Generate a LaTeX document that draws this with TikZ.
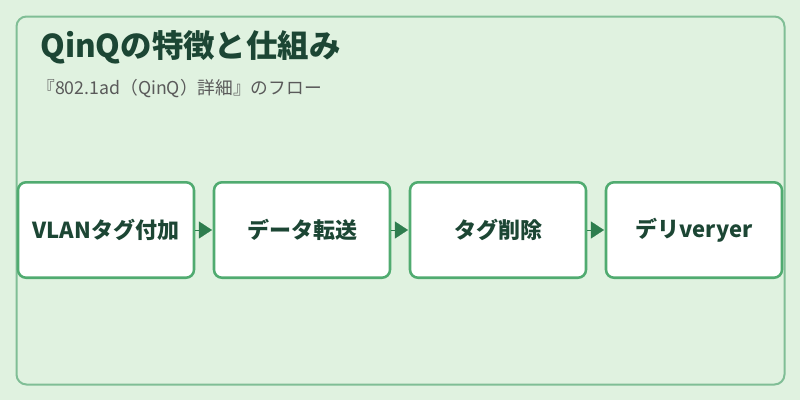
\documentclass[tikz,border=0pt]{standalone}
\usepackage{fontspec}
\setmainfont{Noto Sans CJK JP}
\usetikzlibrary{arrows.meta}

\definecolor{bggreen}{HTML}{E0F2E0}
\definecolor{panelline}{HTML}{80BE96}
\definecolor{boxline}{HTML}{50AB70}
\definecolor{tipgreen}{HTML}{2E7D4E}
\definecolor{titlegreen}{HTML}{1C4634}
\definecolor{subgray}{HTML}{5A5A5A}

\tikzset{
  stepbox/.style={draw=boxline, line width=1.9pt, fill=white, rounded corners=6pt,
    minimum width=132pt, minimum height=71.6pt, inner sep=0pt,
    font=\fontsize{16.5pt}{19pt}\selectfont\bfseries, text=titlegreen},
  flowtip/.style={draw=tipgreen, line width=0.1pt,
    -{Triangle[length=9.75pt,width=12.75pt,fill=tipgreen]}, shorten >=0.6pt}
}

\begin{document}
\begin{tikzpicture}[x=0.75pt,y=0.75pt,yscale=-1,xscale=1]
            \useasboundingbox (0,0) rectangle (800,400); % canvas 800x400
            \fill[bggreen] (0,0) rectangle (800,400); % Background

            % Panel
            \draw[panelline, line width=1.5pt, rounded corners=7.5pt] (16.5,16.5) rectangle (784.5,384.5); % Frame

            % Title
            \node (title) at (40,47) [anchor=west][inner sep=0pt] [font=\fontsize{23.6pt}{27pt}\selectfont\bfseries, text=titlegreen] {QinQの特徴と仕組み}; % Text Node title
            \node (subtitle) at (37,89) [anchor=west][inner sep=0pt] [font=\fontsize{13.3pt}{15pt}\selectfont, text=subgray] {『802.1ad（QinQ）詳細』のフロー}; % Text Node subtitle

            % Boxes
            \node[stepbox] (tagadd) at (106,230) {VLANタグ付加}; % Box 1
            \node[stepbox] (forward) at (302,230) {データ転送}; % Box 2
            \node[stepbox] (tagdel) at (498,230) {タグ削除}; % Box 3
            \node[stepbox] (deliver) at (694,230) {デリveryer}; % Box 4

            % Arrows
            \draw[flowtip] (tagadd.east) -- (forward.west); % 1 -> 2
            \draw[flowtip] (forward.east) -- (tagdel.west); % 2 -> 3
            \draw[flowtip] (tagdel.east) -- (deliver.west); % 3 -> 4
        \end{tikzpicture}
\end{document}
